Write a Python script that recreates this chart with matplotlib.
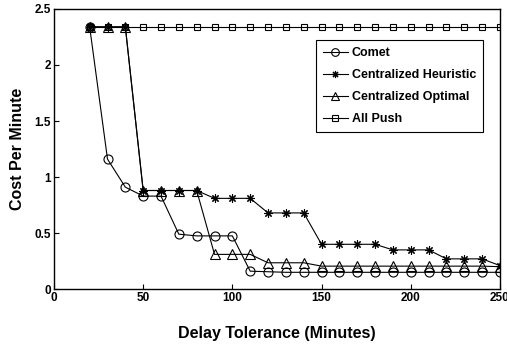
import matplotlib
matplotlib.use('Agg')
import matplotlib.pyplot as plt
import numpy as np

plt.rcParams['font.family'] = ['Liberation Sans', 'DejaVu Sans']
plt.rcParams['font.weight'] = 'bold'

# Delay tolerance values (minutes)
delay = [20, 30, 40, 50, 60, 70, 80, 90, 100, 110, 120, 130, 140, 150,
         160, 170, 180, 190, 200, 210, 220, 230, 240, 250]

comet = [2.34, 1.16, 0.91, 0.83, 0.83, 0.49, 0.475, 0.475, 0.475, 0.16, 0.155, 0.15,
         0.15, 0.15, 0.15, 0.15, 0.15, 0.15, 0.15, 0.15, 0.15, 0.15, 0.15, 0.15]
heuristic = [2.34, 2.34, 2.34, 0.88, 0.88, 0.88, 0.88, 0.81, 0.81, 0.81, 0.68, 0.68,
             0.68, 0.40, 0.40, 0.40, 0.40, 0.35, 0.35, 0.35, 0.27, 0.27, 0.27, 0.21]
optimal = [2.34, 2.34, 2.34, 0.88, 0.88, 0.88, 0.88, 0.31, 0.31, 0.31, 0.235, 0.235,
           0.235, 0.205, 0.205, 0.205, 0.205, 0.205, 0.205, 0.205, 0.205, 0.205, 0.205, 0.2]
all_push = [2.34] * len(delay)

fig = plt.figure(figsize=(5.07, 3.45), dpi=100)
ax = fig.add_axes([0.1065, 0.162, 0.8795, 0.812])

style = dict(color='black', linewidth=0.8, markerfacecolor='none',
             markeredgecolor='black', markeredgewidth=0.8)
# 8-armed asterisk, like the classic '*' plot symbol
asterisk = (8, 2, 0)
ax.plot(delay, comet, marker='o', markersize=6.5, label='Comet', **style)
ax.plot(delay, heuristic, marker=asterisk, markersize=6, label='Centralized Heuristic', **style)
ax.plot(delay, optimal, marker='^', markersize=6.5, label='Centralized Optimal', **style)
ax.plot(delay, all_push, marker='s', markersize=5, label='All Push', **style)

ax.set_xlim(0, 250)
ax.set_ylim(0, 2.5)
ax.set_xticks([0, 50, 100, 150, 200, 250])
ax.set_yticks([0, 0.5, 1, 1.5, 2, 2.5])
ax.set_yticklabels(['0', '0.5', '1', '1.5', '2', '2.5'])
ax.tick_params(direction='in', length=3.5, labelsize=8.5, width=0.8, pad=2)
for lbl in ax.get_xticklabels() + ax.get_yticklabels():
    lbl.set_fontweight('bold')
for sp in ax.spines.values():
    sp.set_linewidth(1.0)

ax.set_xlabel('Delay Tolerance (Minutes)', fontsize=11.5, fontweight='bold', labelpad=16)
ax.set_ylabel('Cost Per Minute', fontsize=11.5, fontweight='bold', labelpad=7)

leg = ax.legend(loc='upper right', bbox_to_anchor=(0.962, 0.889), borderaxespad=0,
                fancybox=False, edgecolor='black', framealpha=1,
                prop={'size': 9, 'weight': 'bold'}, handlelength=2.0, markerscale=0.85,
                handletextpad=0.3, borderpad=0.55, labelspacing=0.8)
leg.get_frame().set_linewidth(0.8)

fig.savefig('out.png', dpi=100)
